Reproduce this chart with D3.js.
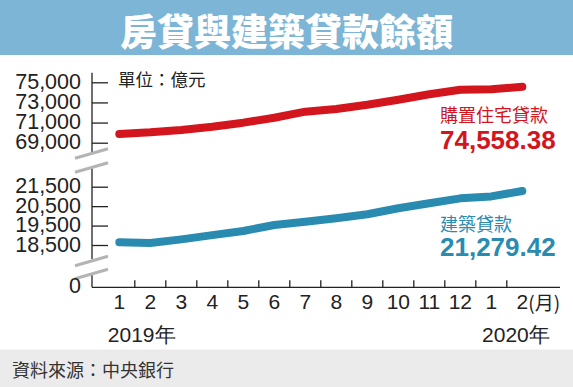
<!DOCTYPE html>
<html>
<head>
<meta charset="utf-8">
<script src="https://cdn.jsdelivr.net/npm/d3@7"></script>
<style>
  html, body { margin: 0; padding: 0; background: #fff; }
  svg { display: block; }
</style>
</head>
<body>
<script>
// 月份與數值（億元）
const months = ["1", "2", "3", "4", "5", "6", "7", "8", "9", "10", "11", "12", "1", "2"];
const housingLoans = [69870, 70030, 70260, 70590, 70990, 71480, 72080, 72350, 72770, 73270, 73810, 74260, 74300, 74558.38];
const constructionLoans = [18640, 18600, 18790, 19010, 19220, 19530, 19700, 19880, 20080, 20390, 20650, 20900, 21000, 21279.42];
const topTicks = [69000, 71000, 73000, 75000];
const bottomTicks = [18500, 19500, 20500, 21500];
const years = ["2019年", "2020年"];

const width = 573, height = 387;
const axisX = 92, baseY = 287.3;
const red = "#d3151e", blue = "#2a8bb1";
const numFont = "'Liberation Sans', Arial, sans-serif";
const cjkFont = "'Noto Sans CJK TC', 'Noto Sans CJK SC', sans-serif";

const svg = d3.select("body").append("svg")
    .attr("width", width)
    .attr("height", height);

// 標題區塊
svg.append("rect").attr("x", 0).attr("y", 0).attr("width", width).attr("height", 55).attr("fill", "#7db5d6");
svg.append("text")
    .attr("x", 286.5).attr("y", 30)
    .attr("text-anchor", "middle")
    .attr("dominant-baseline", "central")
    .style("font-family", cjkFont)
    .style("font-weight", 900)
    .style("font-size", "37px")
    .attr("fill", "#fff")
    .text("房貸與建築貸款餘額");

// 資料來源
svg.append("rect").attr("x", 0).attr("y", 349.5).attr("width", width).attr("height", height - 349.5).attr("fill", "#ebebeb");
svg.append("text")
    .attr("x", 12).attr("y", 369)
    .attr("dominant-baseline", "central")
    .style("font-family", cjkFont)
    .style("font-size", "18px")
    .attr("fill", "#333")
    .text("資料來源：中央銀行");

// 比例尺
const x = d3.scaleBand().domain(d3.range(months.length)).range([103.8, 537.8]);
const yTop = d3.scaleLinear().domain([69000, 75000]).range([142.7, 82.3]);
const yBot = d3.scaleLinear().domain([18500, 21500]).range([245, 186.7]);

// Y 軸（上下兩段）
function yAxis(scale, ticks) {
    const g = svg.append("g").attr("transform", `translate(${axisX},0)`)
        .call(d3.axisLeft(scale).tickValues(ticks).tickSizeInner(-16).tickSizeOuter(0).tickPadding(11)
            .tickFormat(d3.format(",")));
    g.select(".domain").remove();
    g.selectAll(".tick line").attr("stroke", "#222").attr("stroke-width", 1.3);
    g.selectAll(".tick text")
        .attr("dy", null)
        .attr("y", -1)
        .attr("dominant-baseline", "central")
        .style("font-family", numFont)
        .style("font-size", "21.5px")
        .attr("fill", "#222");
}
yAxis(yTop, topTicks);
yAxis(yBot, bottomTicks);

// 軸線分段
const axisSegments = [[72.7, 152], [167, 259], [273, baseY]];
axisSegments.forEach(s => {
    svg.append("line").attr("x1", axisX).attr("x2", axisX).attr("y1", s[0]).attr("y2", s[1])
        .attr("stroke", "#222").attr("stroke-width", 1.3);
});

// 斷軸記號
[153.5, 167.5, 261, 274].forEach(c => {
    svg.append("line")
        .attr("x1", axisX - 17).attr("y1", c + 4.8)
        .attr("x2", axisX + 16).attr("y2", c - 4.8)
        .attr("stroke", "#b4b4b4").attr("stroke-width", 3);
});

// 0 標籤
svg.append("text")
    .attr("x", axisX - 11).attr("y", baseY - 1)
    .attr("text-anchor", "end")
    .attr("dominant-baseline", "central")
    .style("font-family", numFont)
    .style("font-size", "21.5px")
    .attr("fill", "#222")
    .text("0");

// X 軸
svg.append("line").attr("x1", axisX).attr("x2", 560).attr("y1", baseY).attr("y2", baseY)
    .attr("stroke", "#222").attr("stroke-width", 1.3);
svg.selectAll(".xtick")
    .data(d3.range(1, months.length))
    .enter().append("line")
    .attr("class", "xtick")
    .attr("x1", d => x(d)).attr("x2", d => x(d))
    .attr("y1", baseY).attr("y2", baseY - 7)
    .attr("stroke", "#222").attr("stroke-width", 1.3);

const xg = svg.append("g").attr("transform", `translate(0,${baseY})`)
    .call(d3.axisBottom(x).tickSize(0).tickPadding(0).tickFormat(i => months[i]));
xg.select(".domain").remove();
xg.selectAll(".tick text")
    .attr("dy", null)
    .attr("y", 14.5)
    .attr("dominant-baseline", "central")
    .style("font-family", numFont)
    .style("font-size", "21px")
    .attr("fill", "#222");

const last = months.length - 1;
svg.append("text")
    .attr("x", x(last) + x.bandwidth() / 2 + 6).attr("y", baseY + 14.5)
    .attr("dominant-baseline", "central")
    .style("font-family", cjkFont)
    .style("font-size", "19px")
    .attr("fill", "#222")
    .text("(月)");

svg.append("text")
    .attr("x", x(0) + 4).attr("y", baseY + 47)
    .attr("dominant-baseline", "central")
    .style("font-family", numFont)
    .style("font-size", "21px")
    .attr("fill", "#222")
    .text(years[0]);
svg.append("text")
    .attr("x", x(last) + x.bandwidth() + 12).attr("y", baseY + 47)
    .attr("text-anchor", "end")
    .attr("dominant-baseline", "central")
    .style("font-family", numFont)
    .style("font-size", "21px")
    .attr("fill", "#222")
    .text(years[1]);

// 單位
svg.append("text")
    .attr("x", 118).attr("y", 78)
    .attr("dominant-baseline", "central")
    .style("font-family", cjkFont)
    .style("font-size", "17.5px")
    .attr("fill", "#222")
    .text("單位：億元");

// 折線
const cx = i => x(i) + x.bandwidth() / 2;
const lineTop = d3.line().x((d, i) => cx(i)).y(d => yTop(d));
const lineBot = d3.line().x((d, i) => cx(i)).y(d => yBot(d));

svg.append("path").datum(housingLoans)
    .attr("d", lineTop)
    .attr("fill", "none").attr("stroke", red).attr("stroke-width", 8)
    .attr("stroke-linecap", "round").attr("stroke-linejoin", "round");
svg.append("path").datum(constructionLoans)
    .attr("d", lineBot)
    .attr("fill", "none").attr("stroke", blue).attr("stroke-width", 8)
    .attr("stroke-linecap", "round").attr("stroke-linejoin", "round");

// 右側標註
svg.append("text").attr("x", 440).attr("y", 113.5)
    .attr("dominant-baseline", "central")
    .style("font-family", cjkFont).style("font-size", "18px")
    .attr("fill", red).text("購置住宅貸款");
svg.append("text").attr("x", 440).attr("y", 148.5)
    .style("font-family", numFont).style("font-size", "26px").style("font-weight", "bold")
    .attr("fill", red).text(d3.format(",.2f")(housingLoans[last]));
svg.append("text").attr("x", 440).attr("y", 222.5)
    .attr("dominant-baseline", "central")
    .style("font-family", cjkFont).style("font-size", "18px")
    .attr("fill", blue).text("建築貸款");
svg.append("text").attr("x", 440).attr("y", 255.5)
    .style("font-family", numFont).style("font-size", "26px").style("font-weight", "bold")
    .attr("fill", blue).text(d3.format(",.2f")(constructionLoans[last]));
</script>
</body>
</html>
